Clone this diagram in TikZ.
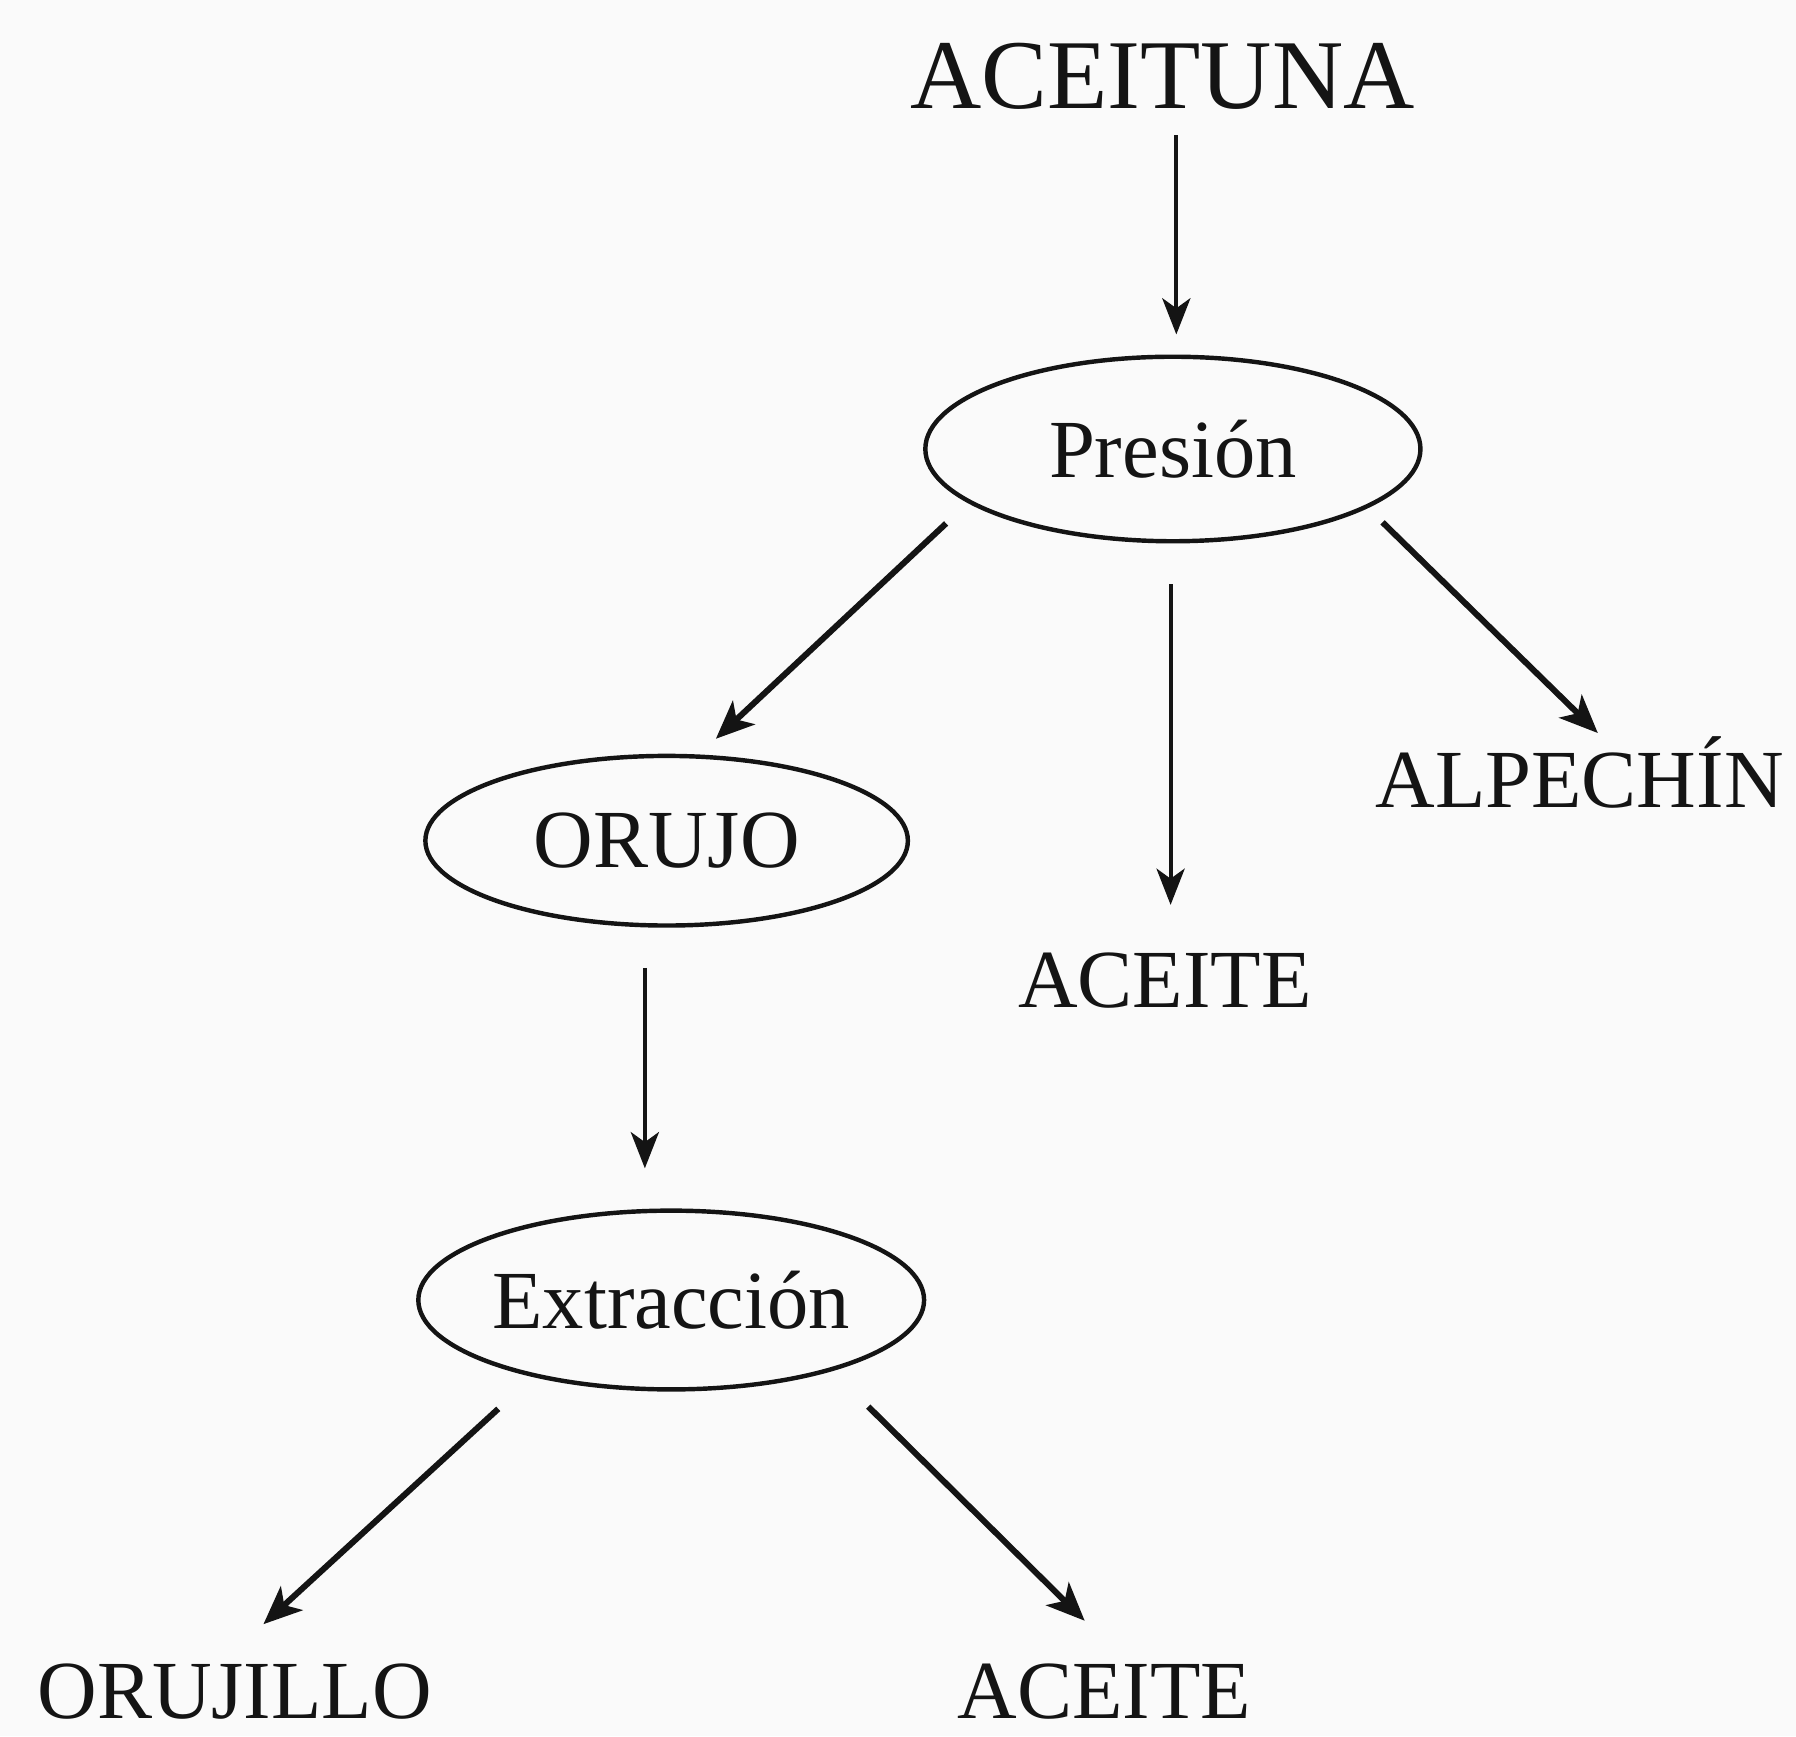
\documentclass[tikz,border=0pt]{standalone}
\usepackage{fontspec}
\setmainfont{Liberation Serif}
\usetikzlibrary{arrows.meta,shapes.geometric}
\definecolor{bgpaper}{RGB}{250,250,250}
\definecolor{ink}{RGB}{20,20,20}
\tikzset{
  lbl/.style={inner sep=0pt, anchor=base, text=ink, font=\fontsize{20.5}{24}\selectfont},
  bigl/.style={lbl, font=\fontsize{24.5}{28}\selectfont},
  oval/.style={ellipse, draw=ink, line width=1.1pt, inner sep=0pt, text=ink, font=\fontsize{20.5}{24}\selectfont},
  varr/.style={draw=ink, line width=0.95pt, -{Stealth[length=9pt,width=7pt,inset=2.5pt]}},
  darr/.style={draw=ink, line width=1.5pt, -{Stealth[length=9.5pt,width=8pt,inset=2.5pt]}}
}
\begin{document}
\begin{tikzpicture}[x=0.01cm,y=-0.01cm]
\fill[bgpaper] (0,0) rectangle (1568,1516);
\useasboundingbox (0,0) rectangle (1568,1516);

\node[bigl] (aceituna) at (1015,95) {ACEITUNA};
\node[oval, minimum width=4.32cm, minimum height=1.61cm] (pres) at (1024,392) {Presión};
\node[oval, minimum width=4.21cm, minimum height=1.48cm] (orujo) at (582,734) {ORUJO};
\node[lbl] (aceite1) at (1017,880) {ACEITE};
\node[lbl] (alpechin) at (1379,705) {ALPECHÍN};
\node[oval, minimum width=4.28cm, minimum height=1.56cm] (extr) at (586,1135) {Extracción};
\node[lbl, text depth=0pt] (orujillo) at (205,1500) {ORUJILLO};
\node[lbl, text depth=0pt] (aceite2) at (964,1500) {ACEITE};

\draw[varr] ([shift={(12,23)}]aceituna.base) -- ([shift={(3,-100)}]pres.center);
\draw[darr] ([shift={(-198,65)}]pres.center) -- ([shift={(43,-89)}]orujo.center);
\draw[varr] ([shift={(-2,118)}]pres.center) -- ([shift={(5,-90)}]aceite1.base);
\draw[darr] ([shift={(183,64)}]pres.center) -- ([shift={(16,-65)}]alpechin.base);
\draw[varr] ([shift={(-19,111)}]orujo.center) -- ([shift={(-23,-115)}]extr.center);
\draw[darr] ([shift={(-151,95)}]extr.center) -- ([shift={(25,-82)}]orujillo.base);
\draw[darr] ([shift={(172,93)}]extr.center) -- ([shift={(-17,-85)}]aceite2.base);
\end{tikzpicture}
\end{document}
